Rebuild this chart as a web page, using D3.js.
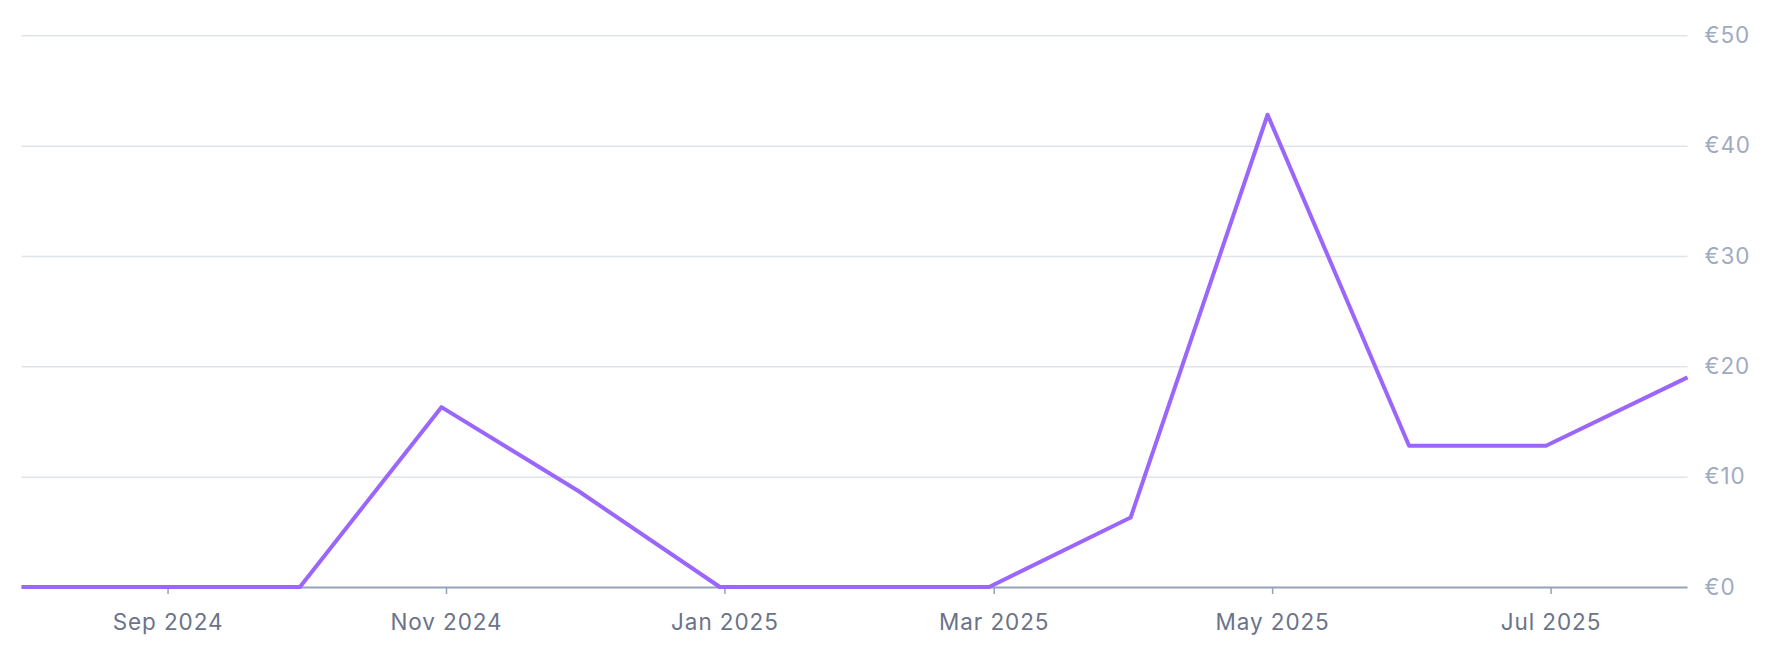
<!DOCTYPE html>
<html>
<head>
<meta charset="utf-8">
<script src="https://cdn.jsdelivr.net/npm/d3@7"></script>
<style>
  html, body { margin: 0; padding: 0; background: #ffffff; }
  svg { display: block; font-family: Inter, "Noto Sans", sans-serif; }
</style>
</head>
<body>
<svg id="chart" width="1784" height="668"></svg>
<script>
// ---- data ----
const dates = ["2024-07-31","2024-08-31","2024-09-30","2024-10-31","2024-11-30","2024-12-31",
               "2025-01-31","2025-02-28","2025-03-31","2025-04-30","2025-05-31","2025-06-30","2025-07-31"];
const values = [0, 0, 0, 16.3, 8.7, 0, 0, 0, 6.3, 42.8, 12.8, 12.8, 19.0];
const xTickDates = ["2024-09-01","2024-11-01","2025-01-01","2025-03-01","2025-05-01","2025-07-01"];
const yTickValues = [0, 10, 20, 30, 40, 50];

const parse = d3.utcParse("%Y-%m-%d");
const data = dates.map((d, i) => ({ date: parse(d), value: values[i] }));

const M = { left: 21.5, right: 1687.5, top: 35.3, bottom: 587 };

const svg = d3.select("#chart");

const x = d3.scaleUtc()
  .domain(d3.extent(data, d => d.date))
  .range([M.left, M.right]);
const y = d3.scaleLinear()
  .domain([0, 50])
  .range([M.bottom, M.top]);

// gridlines + y labels (right)
const yAxis = d3.axisRight(y)
  .tickValues(yTickValues)
  .tickSize(-(M.right - M.left))
  .tickPadding(17)
  .tickFormat(d => "€" + d);
const gy = svg.append("g")
  .attr("transform", `translate(${M.right},0)`)
  .call(yAxis);
gy.select(".domain").remove();
gy.selectAll(".tick line")
  .attr("stroke", d => d === 0 ? "#94a3b8" : "#dfe3ea")
  .attr("stroke-width", d => d === 0 ? 2 : 1.5);
gy.selectAll(".tick text")
  .attr("fill", "#a0abc0")
  .attr("font-size", 22.5)
  .attr("letter-spacing", 0.9)
  .attr("font-family", "Inter, sans-serif");

// x axis
const xAxis = d3.axisBottom(x)
  .tickValues(xTickDates.map(parse))
  .tickSize(7)
  .tickPadding(20)
  .tickFormat(d3.utcFormat("%b %Y"));
const gx = svg.append("g")
  .attr("transform", `translate(0,${M.bottom})`)
  .call(xAxis);
gx.select(".domain").remove();
gx.selectAll(".tick line")
  .attr("stroke", "#94a3b8")
  .attr("stroke-width", 1.5);
gx.selectAll(".tick text")
  .attr("fill", "#6b7389")
  .attr("font-size", 22.5)
  .attr("letter-spacing", 0.9)
  .attr("font-family", "Inter, sans-serif");

// line
const line = d3.line()
  .x(d => x(d.date))
  .y(d => y(d.value));
svg.append("path")
  .datum(data)
  .attr("fill", "none")
  .attr("stroke", "#9b66fb")
  .attr("stroke-width", 4)
  .attr("stroke-linejoin", "round")
  .attr("d", line);
</script>
</body>
</html>
